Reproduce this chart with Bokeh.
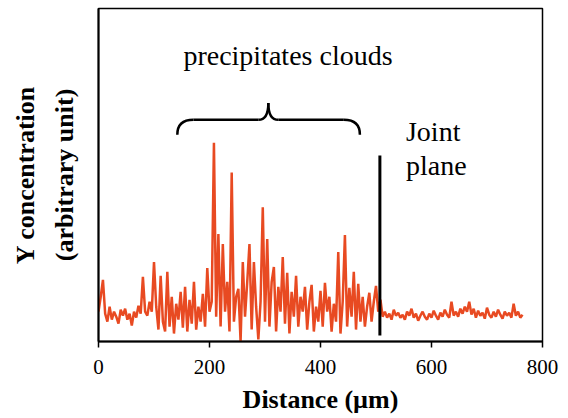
from bokeh.plotting import figure
from bokeh.models import Range1d, FixedTicker, LinearAxis, Label
from bokeh.embed import file_html
from bokeh.resources import INLINE

# ---- data ----
step_um = 4
y_conc = [
    30, 45, 62, 28, 20, 35, 22, 30, 25, 18, 32, 26, 33, 22, 28, 16, 30, 24, 36, 28, 65, 30, 26, 40, 30, 80,
    35, 12, 66, 20, 10, 70, 15, 45, 8, 38, 22, 50, 14, 55, 10, 42, 18, 60, 12, 35, 20, 48, 15, 74, 30,
    40, 200, 25, 108, 15, 98, 30, 60, 10, 170, 20, 45, 53, 0, 80, 25, 60, 98, 12, 80, 35, 2, 40, 135, 20,
    103, 15, 60, 75, 10, 55, 30, 85, 18, 69, 8, 50, 25, 66, 15, 45, 30, 55, 12, 40, 57, 10, 35, 20, 51,
    15, 59, 30, 45, 10, 38, 20, 90, 8, 40, 107, 15, 54, 25, 70, 12, 58, 20, 45, 15, 35, 49, 20, 40, 56,
    30, 42, 25, 30, 24, 28, 22, 32, 26, 29, 24, 27, 22, 30, 26, 33, 24, 28, 21, 26, 30, 25, 22, 28, 24,
    31, 26, 22, 29, 25, 32, 27, 24, 40, 26, 30, 25, 33, 28, 35, 30, 40, 27, 33, 24, 31, 26, 29, 23, 34,
    27, 24, 30, 25, 32, 27, 23, 30, 26, 29, 24, 38, 26, 30, 24, 27,
]
distance = [i * step_um for i in range(len(y_conc))]

x_ticks = [0, 200, 400, 600, 800]

joint_x = 507
joint_y = [6, 187]

# brace (curly bracket) geometry in data units
brace_left, brace_mid, brace_right = 142, 306, 471
brace_end_y, brace_arm_y, brace_tip_y = 208, 223, 240
brace_curl = 29
brace_tip_curl = 18

LINE_COLOR = "#E84A22"
FONT = "'Liberation Serif', serif"

p = figure(width=560, height=416, x_range=Range1d(0, 800), y_range=Range1d(0, 335),
           output_backend="svg", toolbar_location=None,
           min_border_left=98, min_border_right=18, min_border_top=8, min_border_bottom=73)
p.grid.visible = False
p.outline_line_color = "black"
p.outline_line_width = 1.5
p.background_fill_color = "white"
p.border_fill_color = "white"

# data line
p.line(distance, y_conc, line_color=LINE_COLOR, line_width=2.5)

# joint plane line
p.line([joint_x, joint_x], joint_y, line_color="black", line_width=3)

# brace
bl, bm, br = brace_left, brace_mid, brace_right
p.quadratic(x0=[bl, bm - brace_tip_curl, bm, br - brace_curl],
            y0=[brace_end_y, brace_arm_y, brace_tip_y, brace_arm_y],
            x1=[bl + brace_curl, bm, bm + brace_tip_curl, br],
            y1=[brace_arm_y, brace_tip_y, brace_arm_y, brace_end_y],
            cx=[bl, bm, bm, br],
            cy=[brace_arm_y, brace_arm_y, brace_arm_y, brace_arm_y],
            line_color="black", line_width=2.5)
p.segment(x0=[bl + brace_curl, bm + brace_tip_curl], y0=[brace_arm_y, brace_arm_y],
          x1=[bm - brace_tip_curl, br - brace_curl], y1=[brace_arm_y, brace_arm_y],
          line_color="black", line_width=2.5)

# annotations
for txt, xx, yy in [("precipitates clouds", 153, 288), ("Joint", 554, 211), ("plane", 554, 177)]:
    p.add_layout(Label(x=xx, y=yy, text=txt, text_font=FONT, text_font_size="28px",
                       text_color="black", text_baseline="alphabetic", text_align="left"))

# x axis
xa = p.xaxis[0]
xa.ticker = FixedTicker(ticks=x_ticks)
xa.axis_line_width = 2
xa.axis_line_color = "black"
xa.major_tick_line_width = 1.5
xa.major_tick_out = 6
xa.major_tick_in = 0
xa.minor_tick_line_color = None
xa.major_label_text_font = FONT
xa.major_label_text_font_size = "21px"
xa.major_label_text_color = "black"
xa.major_label_standoff = 12
xa.axis_label = "Distance (µm)"
xa.axis_label_text_font = FONT
xa.axis_label_text_font_size = "26px"
xa.axis_label_text_font_style = "bold"
xa.axis_label_text_color = "black"
xa.axis_label_standoff = 8

# y axis (inner: second line of label)
ya = p.yaxis[0]
ya.ticker = FixedTicker(ticks=[])
ya.axis_line_width = 2
ya.axis_line_color = "black"
ya.major_tick_line_color = None
ya.minor_tick_line_color = None
ya.major_label_text_font_size = "0px"
ya.major_label_standoff = 0
ya.axis_label = "(arbitrary unit)"
ya.axis_label_text_font = FONT
ya.axis_label_text_font_size = "26px"
ya.axis_label_text_font_style = "bold"
ya.axis_label_text_color = "black"
ya.axis_label_standoff = 20

ya2 = LinearAxis(ticker=FixedTicker(ticks=[]))
ya2.axis_line_color = None
ya2.major_tick_line_color = None
ya2.minor_tick_line_color = None
ya2.major_label_text_font_size = "0px"
ya2.major_label_standoff = 0
ya2.axis_label = "Y concentration"
ya2.axis_label_text_font = FONT
ya2.axis_label_text_font_size = "26px"
ya2.axis_label_text_font_style = "bold"
ya2.axis_label_text_color = "black"
ya2.axis_label_standoff = 7
p.add_layout(ya2, "left")

open("out.html", "w").write(file_html(p, INLINE))
